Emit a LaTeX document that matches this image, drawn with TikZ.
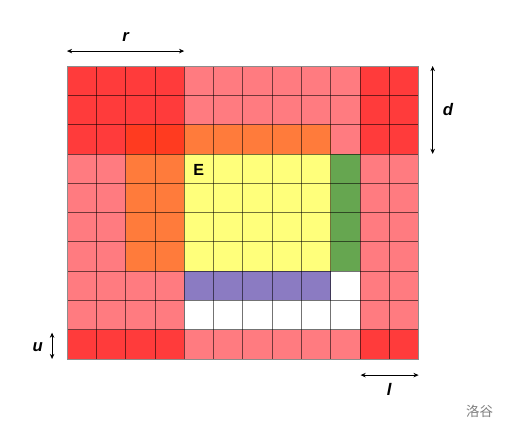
\documentclass[tikz,border=0pt]{standalone}
\usepackage{fontspec}
\setmainfont{Liberation Sans}
\newfontfamily\cjkfont{Noto Sans CJK SC}
\usetikzlibrary{arrows.meta}

\definecolor{cellRed}{HTML}{FF3B3B}
\definecolor{cellPink}{HTML}{FF7B80}
\definecolor{cellDeep}{HTML}{FF3B20}
\definecolor{cellOrange}{HTML}{FF7B3B}
\definecolor{cellYellow}{HTML}{FFFF7B}
\definecolor{cellGreen}{HTML}{66A650}
\definecolor{cellPurple}{HTML}{8B7BC2}

\begin{document}
\begin{tikzpicture}[
    x=0.8cm,
    y=-0.8cm,
    gridline/.style={
        draw=black,
        draw opacity=0.55,
        line width=0.6pt
    },
    dim/.style={
        {Stealth[length=4pt,width=3.5pt]}-{Stealth[length=4pt,width=3.5pt]},
        line width=0.6pt
    },
    dimlabel/.style={
        font=\fontsize{13}{15}\selectfont\bfseries\itshape
    }
]
\useasboundingbox (-2.287,-2.253) rectangle (15.017,12.42);

% Cells, pink underneath
\fill [cellPink] (0,0) rectangle (12,10);
\foreach \xa/\ya/\xb/\yb in {0/0/4/2, 10/0/12/3, 0/2/2/3, 0/9/4/10, 10/9/12/10}
    \fill [cellRed] (\xa,\ya) rectangle (\xb,\yb);
\fill [cellDeep] (2,2) rectangle (4,3);
\fill [cellOrange] (4,2) rectangle (9,3);
\fill [cellOrange] (2,3) rectangle (4,7);
\fill [cellYellow] (4,3) rectangle (9,7);
\fill [cellGreen] (9,3) rectangle (10,7);
\fill [cellPurple] (4,7) rectangle (9,8);
\fill [white] (9,7) rectangle (10,8);
\fill [white] (4,8) rectangle (10,9);

% Grid
\foreach \i in {1,...,11}
    \draw [gridline] (\i,0) -- (\i,10);
\foreach \j in {1,...,9}
    \draw [gridline] (0,\j) -- (12,\j);
\draw [black!45, line width=0.6pt] (0,0) rectangle (12,10);

\node [font=\fontsize{12.5}{14}\selectfont\bfseries] (e) at (4.5,3.55) {E};

% Dimension markers
\coordinate (r1) at (0,-0.51);
\coordinate (r2) at (4,-0.51);
\draw [dim] (r1) -- (r2);
\node [dimlabel] (rlab) at (2,-0.98) {r};

\coordinate (d1) at (12.48,0);
\coordinate (d2) at (12.48,3);
\draw [dim] (d1) -- (d2);
\node [dimlabel] (dlab) at (13.0,1.5) {d};

\coordinate (u1) at (-0.51,9.1);
\coordinate (u2) at (-0.51,10);
\draw [dim] (u1) -- (u2);
\node [dimlabel] (ulab) at (-1.0,9.6) {u};

\coordinate (l1) at (10.02,10.55);
\coordinate (l2) at (12,10.55);
\draw [dim] (l1) -- (l2);
\node [dimlabel] (llab) at (11.0,11.05) {l};

\node [font=\cjkfont\fontsize{10.5}{12}\selectfont, text=black!50] (mark) at (14.08,11.78) {洛谷};

\end{tikzpicture}
\end{document}
